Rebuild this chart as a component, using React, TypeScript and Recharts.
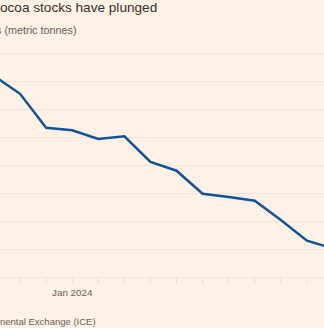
import { CartesianGrid, Line, LineChart, XAxis, YAxis } from "recharts";

const months = [
  "Oct 2023", "Nov 2023", "Dec 2023", "Jan 2024", "Feb 2024", "Mar 2024", "Apr 2024",
  "May 2024", "Jun 2024", "Jul 2024", "Aug 2024", "Sep 2024", "Oct 2024", "Nov 2024",
];

// certified stocks, metric tonnes
const stocks = [
  360000, 328000, 267500, 263000, 247300, 252100, 206300,
  190700, 149600, 143800, 137100, 102700, 65700, 51800,
];

const yTicks = [0, 50000, 100000, 150000, 200000, 250000, 300000, 350000, 400000];

const data = months.map((m, i) => ({ month: m, stocks: stocks[i] }));

const BG = "#FFF1E5";
const GRID = "#f1e3d7";
const MUTED = "#66605C";
const FONT = "'Liberation Sans', Arial, sans-serif";

export default function App() {
  return (
    <div
      style={{
        position: "absolute",
        left: 0,
        top: 0,
        width: 324,
        height: 328,
        overflow: "hidden",
        background: BG,
        fontFamily: FONT,
      }}
    >
      <div style={{ position: "absolute", left: -6, top: 0 }}>
        <LineChart
          width={339}
          height={308}
          data={data}
          margin={{ top: 53.5, right: 0, bottom: 0, left: 0 }}
        >
          <CartesianGrid vertical={false} stroke={GRID} />
          <XAxis
            dataKey="month"
            interval={0}
            height={30.5}
            axisLine={{ stroke: GRID }}
            tickLine={{ stroke: "#eadccf" }}
            tickSize={6}
            tickMargin={6}
            tick={{ fill: MUTED, fontSize: 9.8, fontFamily: FONT }}
            tickFormatter={(m: string) => (m.startsWith("Jan") ? m : "")}
          />
          <YAxis hide domain={[0, 400000]} ticks={yTicks} />
          <Line
            type="linear"
            dataKey="stocks"
            stroke="#0F5499"
            strokeWidth={2.5}
            dot={false}
            isAnimationActive={false}
          />
        </LineChart>
      </div>

      <div
        style={{
          position: "absolute",
          left: 0,
          top: -0.4,
          fontSize: 13.6,
          color: "#33302E",
          whiteSpace: "nowrap",
        }}
      >
        <span style={{ position: "absolute", right: "100%" }}>C</span>
        ocoa stocks have plunged
      </div>

      <div
        style={{
          position: "absolute",
          left: 4.5,
          top: 24,
          fontSize: 10.8,
          color: MUTED,
          whiteSpace: "nowrap",
        }}
      >
        <span style={{ position: "absolute", right: "100%" }}>Certified cocoa stocks&nbsp;</span>
        (metric tonnes)
      </div>

      <div
        style={{
          position: "absolute",
          left: 0,
          top: 316,
          fontSize: 9.5,
          color: MUTED,
          whiteSpace: "nowrap",
        }}
      >
        <span style={{ position: "absolute", right: "100%" }}>Source: Intercontin</span>
        nental Exchange (ICE)
      </div>
    </div>
  );
}
